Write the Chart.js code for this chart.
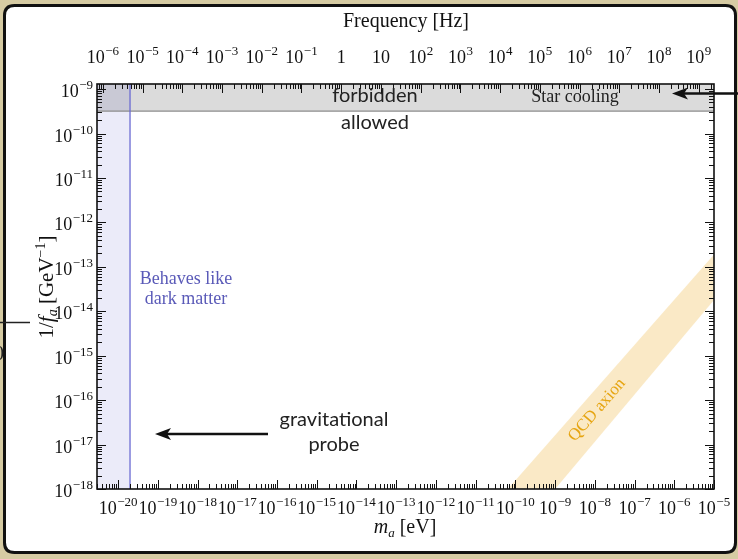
<!DOCTYPE html>
<html>
<head>
<meta charset="utf-8">
<script src="https://cdn.jsdelivr.net/npm/chart.js@4.4.1/dist/chart.umd.min.js"></script>
<style>
html,body{margin:0;padding:0;background:#d6cba3;}
#wrap{position:relative;width:738px;height:559px;}
</style>
</head>
<body>
<div id="wrap"><canvas id="axion"></canvas></div>
<script>
'use strict';
/* axion mass vs coupling — log/log with a frequency axis on top */
const massRange   = [2.95e-21, 1e-5];     // m_a [eV]
const invFaRange  = [1e-18, 1.3e-9];      // 1/f_a [GeV^-1]
const EV_TO_HZ    = 2.418e14;

const massDecades  = [-20,-19,-18,-17,-16,-15,-14,-13,-12,-11,-10,-9,-8,-7,-6,-5];
const freqDecades  = [-6,-5,-4,-3,-2,-1,0,1,2,3,4,5,6,7,8,9];
const invFaDecades = [-18,-17,-16,-15,-14,-13,-12,-11,-10,-9];

const starCoolingLimit = 3.2e-10;
const darkMatterMass   = 2e-20;
const qcdMass  = [1e-11, 1e-5];
const qcdUpper = [1.5e-19, 1.9e-13];
const qcdLower = [7.4e-21, 1.8e-14];

const SERIF = '"Liberation Serif","DejaVu Serif",serif';
const SANS  = 'Lato,"Open Sans",sans-serif';

const expOf = v => Math.round(Math.log10(v));
function tickText(e, plain){
  if(plain && e===0) return ['1',''];
  if(plain && e===1) return ['10',''];
  return ['10', String(e).replace('-','\u2212')];
}

function roundRect(c,x,y,w,h,r){
  c.beginPath();
  c.moveTo(x+r,y); c.lineTo(x+w-r,y); c.quadraticCurveTo(x+w,y,x+w,y+r);
  c.lineTo(x+w,y+h-r); c.quadraticCurveTo(x+w,y+h,x+w-r,y+h);
  c.lineTo(x+r,y+h); c.quadraticCurveTo(x,y+h,x,y+h-r);
  c.lineTo(x,y+r); c.quadraticCurveTo(x,y,x+r,y); c.closePath();
}

// slide background + card
const paper = {
  id:'paper',
  beforeDraw(chart){
    const c=chart.ctx;
    c.save();
    c.fillStyle='#d6cba3'; c.fillRect(0,0,chart.width,chart.height);
    roundRect(c,4.5,5.5,731,547,10);
    c.fillStyle='#fff'; c.fill();
    c.lineWidth=3; c.strokeStyle='#111'; c.stroke();
    c.restore();
  },
  afterDraw(chart){
    const c=chart.ctx;
    c.save();
    c.strokeStyle='#222'; c.lineWidth=1.5;
    c.beginPath(); c.moveTo(0,322.5); c.lineTo(30,322.5); c.stroke();
    c.fillStyle='#222'; c.font='20px '+SERIF; c.textBaseline='middle';
    c.fillText('0',-6,355);
    c.restore();
  }
};

// inward log ticks and frame
function logTicks(c, scale, a, side){
  const lo=Math.floor(Math.log10(scale.min)), hi=Math.ceil(Math.log10(scale.max));
  for(let e=lo;e<=hi;e++) for(let k=1;k<10;k++){
    const v=k*Math.pow(10,e);
    if(v<scale.min*0.9999||v>scale.max*1.0001) continue;
    const p=Math.round(scale.getPixelForValue(v))+0.5, len=k===1?9:5;
    c.beginPath();
    if(side==='bottom'){c.moveTo(p,a.bottom);c.lineTo(p,a.bottom-len);}
    if(side==='top'){c.moveTo(p,a.top);c.lineTo(p,a.top+len);}
    if(side==='left'){c.moveTo(a.left,p);c.lineTo(a.left+len,p);}
    if(side==='right'){c.moveTo(a.right,p);c.lineTo(a.right-len,p);}
    c.stroke();
  }
}
const BASE_FONT = '18px '+SERIF, EXP_FONT = '13px '+SERIF;
// "10" with a raised exponent; anchor: 'center' or 'right' at x, baseline y
function powerLabel(c, parts, x, y, anchor){
  c.font=BASE_FONT; const wb=c.measureText(parts[0]).width;
  c.font=EXP_FONT;  const we=parts[1]?c.measureText(parts[1]).width+0.5:0;
  const x0 = anchor==='right' ? x-wb-we : x-(wb+we)/2;
  c.font=BASE_FONT; c.fillText(parts[0],x0,y);
  if(parts[1]){ c.font=EXP_FONT; c.fillText(parts[1],x0+wb+0.5,y-8); }
}
const frame = {
  id:'frame',
  afterDatasetsDraw(chart){
    const c=chart.ctx, a=chart.chartArea, s=chart.scales;
    c.save();
    c.strokeStyle='#111'; c.lineWidth=1;
    logTicks(c,s.x,a,'bottom'); logTicks(c,s.x2,a,'top');
    logTicks(c,s.y,a,'left'); logTicks(c,s.y,a,'right');
    c.lineWidth=1.6;
    c.strokeRect(a.left,a.top,a.right-a.left,a.bottom-a.top);

    c.fillStyle='#111'; c.textAlign='left'; c.textBaseline='alphabetic';
    s.x.ticks.forEach((t,i)=>powerLabel(c,tickText(expOf(t.value)),s.x.getPixelForTick(i),a.bottom+25,'center'));
    s.x2.ticks.forEach((t,i)=>powerLabel(c,tickText(expOf(t.value),true),s.x2.getPixelForTick(i),a.top-21,'center'));
    s.y.ticks.forEach((t,i)=>powerLabel(c,tickText(expOf(t.value)),a.left-4,s.y.getPixelForTick(i)+8,'right'));
    c.restore();
  }
};

function arrow(c,x0,x1,y){
  c.beginPath(); c.moveTo(x0,y); c.lineTo(x1+10,y); c.stroke();
  c.beginPath(); c.moveTo(x1,y); c.lineTo(x1+16,y-6); c.lineTo(x1+12,y); c.lineTo(x1+16,y+6); c.closePath(); c.fill();
}
function runs(c, parts, x, y){
  // a row of text pieces [text, font, dy], centred on x
  let w=0; parts.forEach(p=>{c.font=p[1]; w+=c.measureText(p[0]).width;});
  let cx=x-w/2;
  parts.forEach(p=>{c.font=p[1]; c.fillText(p[0],cx,y+(p[2]||0)); cx+=c.measureText(p[0]).width;});
}

// labels, arrows, axis titles
const notes = {
  id:'notes',
  afterDraw(chart){
    const c=chart.ctx;
    c.save();
    c.textAlign='center'; c.textBaseline='middle';
    c.fillStyle='#222'; c.font='20px '+SANS;
    c.fillText('forbidden',375,96);
    c.fillText('allowed',375,123);
    c.fillText('gravitational',334,420);
    c.fillText('probe',334,445);
    c.font='18px '+SERIF; c.fillText('Star cooling',575,97);
    c.fillStyle='#5a5ab8';
    c.fillText('Behaves like',186,279);
    c.fillText('dark matter',186,299);
    c.save();
    c.translate(597,410); c.rotate(-49*Math.PI/180);
    c.fillStyle='#e6a512'; c.font='17px '+SERIF;
    c.fillText('QCD axion',0,0);
    c.restore();

    c.fillStyle='#111'; c.strokeStyle='#111'; c.lineWidth=2.5;
    arrow(c,738,672,93.5);
    arrow(c,268,155,434);

    c.textBaseline='alphabetic';
    c.font='20px '+SERIF; c.textAlign='center';
    c.fillText('Frequency [Hz]',406,27);
    c.textAlign='left';
    runs(c,[['m','italic 20px '+SERIF],['a','italic 13px '+SERIF,4],[' [eV]','20px '+SERIF]],405,533);
    c.save();
    c.translate(53,287); c.rotate(-Math.PI/2);
    runs(c,[['1/','21px '+SERIF],['f','italic 21px '+SERIF],['a','italic 14px '+SERIF,4],[' [GeV','21px '+SERIF],['\u22121','14px '+SERIF,-8],[']','21px '+SERIF]],0,0);
    c.restore();
    c.restore();
  }
};

function decadeTicks(list){ return s => { s.ticks = list.map(e=>({value:Math.pow(10,e)})); }; }
const hidden = {display:false};
const quietGrid = {display:false, drawTicks:false};

new Chart(document.getElementById('axion'), {
  type:'line',
  data:{datasets:[
    {label:'dark matter', data:[{x:massRange[0],y:invFaRange[1]},{x:darkMatterMass,y:invFaRange[1]}],
     fill:'start', backgroundColor:'rgba(100,100,205,0.13)', borderWidth:0, order:6},
    {label:'star cooling', data:[{x:massRange[0],y:starCoolingLimit},{x:massRange[1],y:starCoolingLimit}],
     fill:'end', backgroundColor:'rgba(0,0,0,0.14)', borderColor:'#8c8c8c', borderWidth:1.3, order:5},
    {label:'QCD upper', data:qcdMass.map((m,i)=>({x:m,y:qcdUpper[i]})),
     fill:false, borderWidth:0, order:4},
    {label:'QCD lower', data:qcdMass.map((m,i)=>({x:m,y:qcdLower[i]})),
     fill:'-1', backgroundColor:'rgba(242,203,120,0.42)', borderWidth:0, order:3},
    {label:'m_DM', data:[{x:darkMatterMass,y:invFaRange[0]},{x:darkMatterMass,y:invFaRange[1]}],
     fill:false, borderColor:'#6b6bd2', borderWidth:1.3, order:1}
  ]},
  options:{
    responsive:true, maintainAspectRatio:false, animation:false,
    devicePixelRatio:1,
    layout:{padding:{left:0,right:24,top:0,bottom:0}},
    elements:{point:{radius:0}, line:{tension:0}},
    plugins:{legend:{display:false}, tooltip:{enabled:false}},
    scales:{
      x:{type:'logarithmic', position:'bottom', min:massRange[0], max:massRange[1],
         afterBuildTicks:decadeTicks(massDecades), afterFit:s=>{s.height=70;},
         grid:quietGrid, border:hidden, ticks:{display:false, autoSkip:false}},
      x2:{type:'logarithmic', position:'top', min:massRange[0]*EV_TO_HZ, max:massRange[1]*EV_TO_HZ,
         afterBuildTicks:decadeTicks(freqDecades), afterFit:s=>{s.height=84;},
         grid:quietGrid, border:hidden, ticks:{display:false, autoSkip:false}},
      y:{type:'logarithmic', min:invFaRange[0], max:invFaRange[1],
         afterBuildTicks:decadeTicks(invFaDecades), afterFit:s=>{s.width=97;},
         grid:quietGrid, border:hidden, ticks:{display:false, autoSkip:false}}
    }
  },
  plugins:[paper,frame,notes]
});
</script>
</body>
</html>
